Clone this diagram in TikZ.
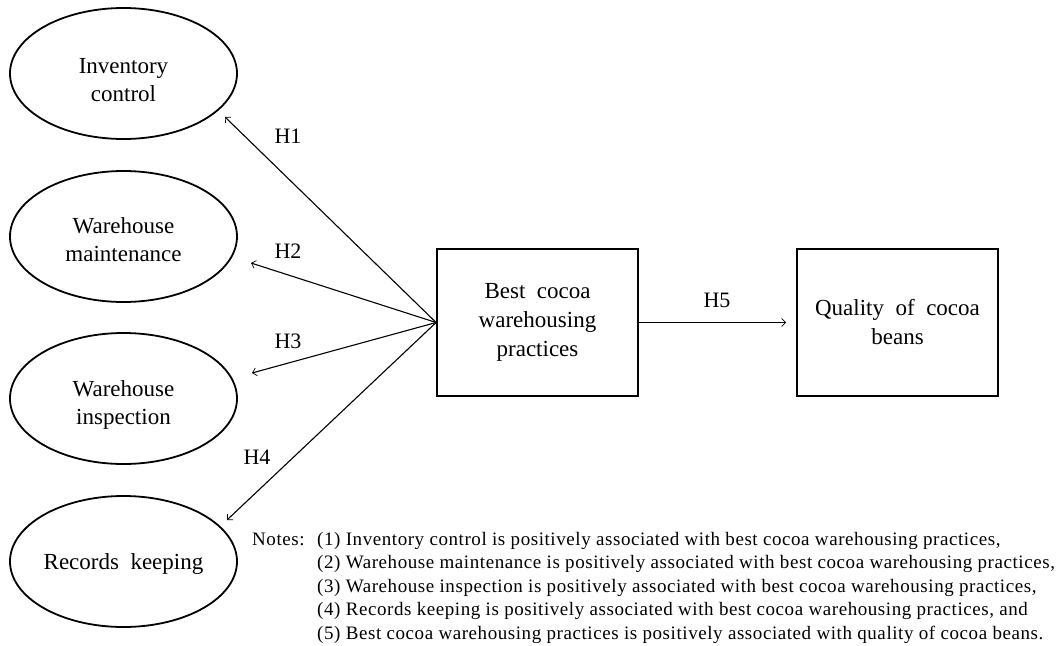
\documentclass[tikz,border=0pt]{standalone}
\usepackage{fontspec}
\setmainfont{Liberation Serif}
\usetikzlibrary{arrows.meta,shapes.geometric}
\begin{document}
\begin{tikzpicture}[x=1pt,y=-1pt,
  oval/.style={ellipse, draw, line width=1.8pt, minimum width=227pt, minimum height=131pt, inner sep=0pt},
  otext/.style={align=center, inner sep=0pt, font=\fontsize{23}{28}\selectfont},
  box/.style={rectangle, draw, line width=1.8pt, minimum width=201pt, minimum height=147pt, inner sep=0pt, align=center, font=\fontsize{23}{29}\selectfont},
  arr/.style={line width=1.1pt, -{Straight Barb[length=4pt,width=8pt,line width=0.7pt]}},
  hlab/.style={font=\fontsize{22}{26}\selectfont, inner sep=0pt},
  note/.style={font=\fontsize{19}{23.5}\selectfont\addfontfeature{LetterSpace=3}, inner sep=0pt, anchor=base west}]
\useasboundingbox (0,0) rectangle (1064,645);
% latent constructs
\node[oval] (e1) at (123.5,73.5) {};
\node[oval] (e2) at (123.5,236.5) {};
\node[oval] (e3) at (123.5,398.5) {};
\node[oval] (e4) at (123.5,561.5) {};
\node[otext, yshift=-7pt] (l1) at (e1.center) {Inventory\\control};
\node[otext, yshift=-3pt] (l2) at (e2.center) {Warehouse\\maintenance};
\node[otext, yshift=-6pt] (l3) at (e3.center) {Warehouse\\inspection};
\node[otext, yshift=-2pt] (l4) at (e4.center) {Records\ \ keeping};
% boxes
\node[box] (bp) at (537.5,322.5) {Best\ \ cocoa\\warehousing\\practices};
\node[box] (qb) at (897.5,322.5) {Quality\ \ of\ \ cocoa\\beans};
% arrow end points
\coordinate (t1) at (225,117);
\coordinate (t2) at (251,263);
\coordinate (t3) at (252,373);
\coordinate (t4) at (227,520);
\draw[arr] (bp.west) -- (t1);
\draw[arr] (bp.west) -- (t2);
\draw[arr] (bp.west) -- (t3);
\draw[arr] (bp.west) -- (t4);
\draw[arr, shorten >=10pt] (bp.east) -- (qb.west);
% hypothesis labels
\node[hlab] (h1) at (288,136) {H1};
\node[hlab] (h2) at (288,251) {H2};
\node[hlab] (h3) at (288,341) {H3};
\node[hlab] (h4) at (257,457) {H4};
\node[hlab] (h5) at (717,300) {H5};
% notes
\node[note] (nt) at (252,545) {Notes:};
\node[note] (n1) at (317,545) {(1) Inventory control is positively associated with best cocoa warehousing practices,};
\node[note] (n2) at (317,568.5) {(2) Warehouse maintenance is positively associated with best cocoa warehousing practices,};
\node[note] (n3) at (317,592) {(3) Warehouse inspection is positively associated with best cocoa warehousing practices,};
\node[note] (n4) at (317,615.5) {(4) Records keeping is positively associated with best cocoa warehousing practices, and};
\node[note] (n5) at (317,639) {(5) Best cocoa warehousing practices is positively associated with quality of cocoa beans.};
\end{tikzpicture}
\end{document}
